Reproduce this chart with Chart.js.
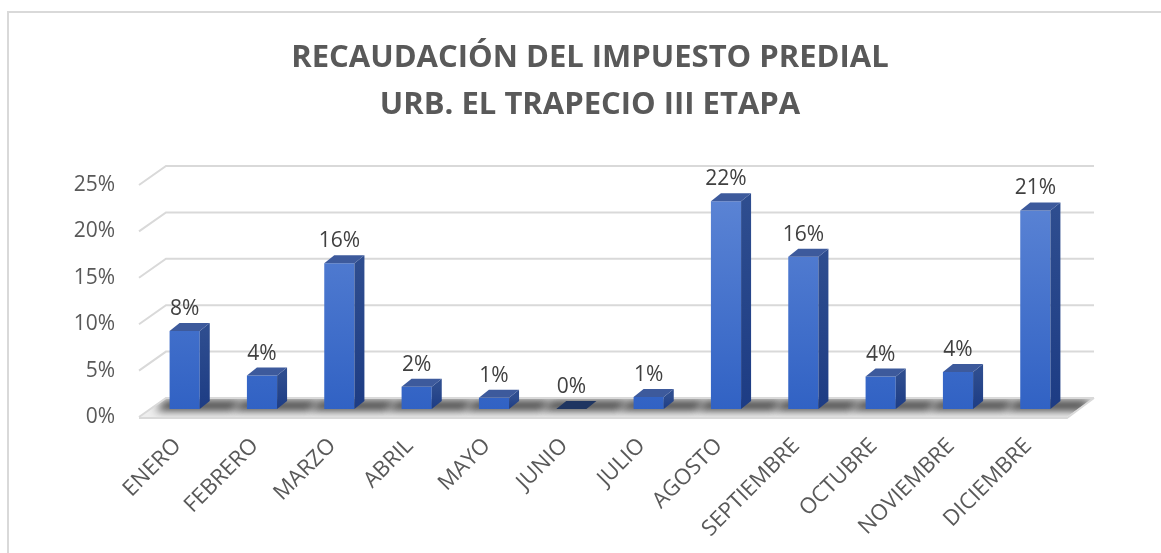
<!DOCTYPE html>
<html>
<head>
<meta charset="utf-8">
<script src="https://cdn.jsdelivr.net/npm/chart.js@4/dist/chart.umd.min.js"></script>
<style>
  body { margin: 0; background: #fff; overflow: hidden; }
  #marco { position: absolute; left: 7px; top: 11px; width: 1200px; height: 600px;
           border-left: 2px solid #d9d9d9; border-top: 2px solid #d9d9d9; }
  #wrap { position: absolute; left: 0; top: 0; width: 1161px; height: 553px; }
</style>
</head>
<body>
<div id="marco"></div>
<div id="wrap"><canvas id="grafico"></canvas></div>
<script>
// datos del grafico
const meses = ["ENERO", "FEBRERO", "MARZO", "ABRIL", "MAYO", "JUNIO", "JULIO",
  "AGOSTO", "SEPTIEMBRE", "OCTUBRE", "NOVIEMBRE", "DICIEMBRE"];
const recaudacion = [8.4, 3.6, 15.7, 2.4, 1.2, 0, 1.3, 22.4, 16.4, 3.5, 4.0, 21.4];
const titulo = ["RECAUDACIÓN DEL IMPUESTO PREDIAL", "URB. EL TRAPECIO III ETAPA"];
const ticksY = [0, 5, 10, 15, 20, 25];

// profundidad 3D
const FONDO = { dx: 27, dy: -19 };   // pared del fondo
const FRENTE = { dx: 7, dy: -8 };    // cara frontal de las barras
const PROF = { dx: 10, dy: -8 };     // grosor de cada barra

const FUENTE = "'Open Sans', 'DejaVu Sans', sans-serif";

// pared, piso y sombras
const fondo3d = {
  id: "fondo3d",
  beforeDatasetsDraw(chart) {
    const { ctx, chartArea: a, scales } = chart;
    const y = scales.y;
    ctx.save();
    // piso
    const y0 = y.getPixelForValue(0);
    const piso = () => {
      ctx.beginPath();
      ctx.moveTo(a.left, y0);
      ctx.lineTo(a.right, y0);
      ctx.lineTo(a.right + FONDO.dx, y0 + FONDO.dy);
      ctx.lineTo(a.left + FONDO.dx, y0 + FONDO.dy);
      ctx.closePath();
    };
    piso();
    ctx.fillStyle = "#eeeeee";
    ctx.fill();
    // sombra de las barras sobre el piso
    const meta = chart.getDatasetMeta(0);
    ctx.save();
    piso();
    ctx.clip();
    ctx.filter = "blur(4px)";
    ctx.fillStyle = "rgba(30,30,30,0.8)";
    meta.data.forEach((b) => {
      const w = b.width;
      const bx = b.x - w / 2 + FRENTE.dx;
      const by = y0 + FRENTE.dy;
      ctx.beginPath();
      ctx.moveTo(bx - 14, by + 2);
      ctx.lineTo(bx + w + 32, by + 2);
      ctx.lineTo(bx + w + 32 + PROF.dx, by + PROF.dy - 1);
      ctx.lineTo(bx - 14 + PROF.dx, by + PROF.dy - 1);
      ctx.closePath();
      ctx.fill();
    });
    ctx.restore();
    // lineas de division
    ctx.strokeStyle = "#d9d9d9";
    ctx.lineWidth = 2;
    ticksY.forEach((v) => {
      const py = y.getPixelForValue(v);
      ctx.beginPath();
      ctx.moveTo(a.left, py);
      ctx.lineTo(a.left + FONDO.dx, py + FONDO.dy);
      ctx.lineTo(a.right + FONDO.dx, py + FONDO.dy);
      ctx.stroke();
    });
    // borde frontal y derecho del piso
    ctx.beginPath();
    ctx.moveTo(a.left, y0 + 1);
    ctx.lineTo(a.right, y0 + 1);
    ctx.lineTo(a.right + FONDO.dx, y0 + FONDO.dy);
    ctx.stroke();
    ctx.restore();

    // las barras van un poco hacia el fondo
    ctx.save();
    ctx.translate(FRENTE.dx, FRENTE.dy);
  },
  afterDatasetsDraw(chart) {
    const { ctx } = chart;
    const meta = chart.getDatasetMeta(0);
    meta.data.forEach((b, i) => {
      const w = b.width;
      const x1 = b.x - w / 2, x2 = b.x + w / 2;
      const top = b.y, base = b.base;
      // cara lateral
      if (base - top > 0.5) {
        const g = ctx.createLinearGradient(0, top, 0, base);
        g.addColorStop(0, "#2e4d8f");
        g.addColorStop(1, "#1d3c84");
        ctx.beginPath();
        ctx.moveTo(x2, top);
        ctx.lineTo(x2 + PROF.dx, top + PROF.dy);
        ctx.lineTo(x2 + PROF.dx, base + PROF.dy);
        ctx.lineTo(x2, base);
        ctx.closePath();
        ctx.fillStyle = g;
        ctx.fill();
      }
      // cara superior
      ctx.beginPath();
      ctx.moveTo(x1, top);
      ctx.lineTo(x1 + PROF.dx, top + PROF.dy);
      ctx.lineTo(x2 + PROF.dx, top + PROF.dy);
      ctx.lineTo(x2, top);
      ctx.closePath();
      ctx.fillStyle = base - top > 0.5 ? "#3d5a9c" : "#1f3561";
      ctx.fill();
      // etiqueta
      ctx.fillStyle = "#404040";
      ctx.font = "21px " + FUENTE;
      ctx.textAlign = "center";
      ctx.textBaseline = "middle";
      ctx.fillText(Math.round(recaudacion[i]) + "%", b.x, top - 22);
    });
    ctx.restore();
  }
};

const ctx = document.getElementById("grafico").getContext("2d");
new Chart(ctx, {
  type: "bar",
  data: {
    labels: meses,
    datasets: [{
      data: recaudacion,
      barPercentage: 0.39,
      categoryPercentage: 1,
      borderWidth: 0,
      backgroundColor: (c) => {
        const a = c.chart.chartArea;
        if (!a) return "#4472c4";
        const g = c.chart.ctx.createLinearGradient(0, a.top, 0, a.bottom);
        g.addColorStop(0, "#5f87d6");
        g.addColorStop(1, "#3162c4");
        return g;
      },
      clip: false
    }]
  },
  plugins: [fondo3d],
  options: {
    responsive: true,
    maintainAspectRatio: false,
    animation: false,
    events: [],
    layout: { padding: { left: 73, right: 54, top: 12, bottom: 0 } },
    plugins: {
      legend: { display: false },
      tooltip: { enabled: false },
      title: {
        display: true,
        text: titulo,
        color: "#595959",
        font: { family: FUENTE, size: 31, weight: "bold", lineHeight: 1.5 },
        padding: { top: 23, bottom: 57 }
      }
    },
    scales: {
      x: {
        grid: { display: false, drawTicks: false },
        border: { display: false },
        ticks: {
          color: "#595959",
          font: { family: FUENTE, size: 22 },
          maxRotation: 45,
          minRotation: 45,
          autoSkip: false,
          padding: 16
        },
        afterFit: (s) => { s.height = 136; }
      },
      y: {
        min: 0,
        max: 25,
        grid: { display: false, drawTicks: false },
        border: { display: false },
        ticks: {
          stepSize: 5,
          color: "#595959",
          font: { family: FUENTE, size: 21 },
          padding: 24,
          callback: (v) => v + "%"
        },
        afterFit: (s) => { s.width = 66; }
      },
      derecha: {
        position: "right",
        display: true,
        grid: { display: false },
        border: { display: false },
        ticks: { display: false },
        afterFit: (s) => { s.width = 40; }
      }
    }
  }
});
</script>
</body>
</html>
